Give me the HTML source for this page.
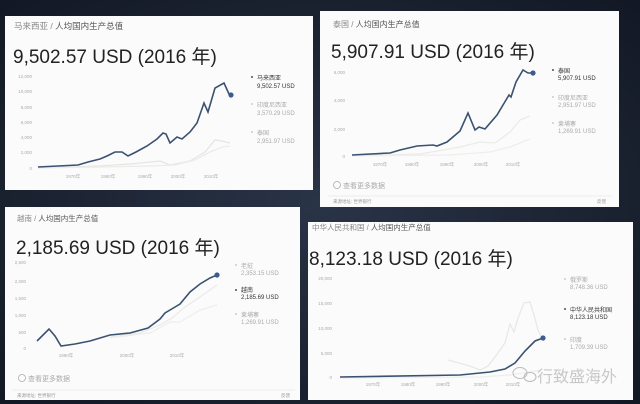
<!DOCTYPE html>
<html><head><meta charset="utf-8"><style>
html,body{margin:0;padding:0;background:#1b2232;width:640px;height:404px;overflow:hidden}
svg{display:block}
text{font-family:"Liberation Sans","Noto Sans CJK SC",sans-serif}
</style></head><body>
<svg width="640" height="404" viewBox="0 0 640 404" xmlns="http://www.w3.org/2000/svg">
<defs><radialGradient id="bg" cx="50%" cy="50%" r="70%"><stop offset="0" stop-color="#2a3447"/><stop offset="1" stop-color="#121824"/></radialGradient></defs>
<rect width="640" height="404" fill="url(#bg)"/>

<!-- Panel 1 Malaysia -->
<rect x="5" y="16" width="308" height="174" fill="#fbfbfc"/>
<text x="14" y="29" font-size="8.5" fill="#888">马来西亚 / <tspan fill="#555">人均国内生产总值</tspan></text>
<text x="13" y="63" font-size="19" fill="#222">9,502.57 USD (2016 年)</text>
<g font-size="4.5" fill="#aaa" text-anchor="end">
<text x="32" y="78">12,000</text><text x="32" y="93">10,000</text><text x="32" y="109">8,000</text><text x="32" y="124">6,000</text><text x="32" y="139">4,000</text><text x="32" y="154">2,000</text><text x="32" y="170">0</text></g>
<g font-size="4.5" fill="#aaa" text-anchor="middle">
<text x="73" y="178">1970年</text><text x="108" y="178">1980年</text><text x="145" y="178">1990年</text><text x="178" y="178">2000年</text><text x="211" y="178">2010年</text></g>
<polyline fill="none" stroke="#e6e6e0" stroke-width="1.3" points="38,168 100,166 130,164 160,161 170,165 190,161 205,152 215,140 222,141 230,143"/>
<polyline fill="none" stroke="#ececea" stroke-width="1.3" points="38,168 100,167 150,166 175,165 195,160 210,152 222,147 230,146"/>
<polyline fill="none" stroke="#3b5170" stroke-width="1.6" points="38,167 78,165 88,162 100,159 107,156 115,152 122,152 128,156 136,152 147,146 157,139 163,133 166,134 170,143 177,137 182,139 190,132 197,123 204,103 208,112 215,88 224,83 229,94 231,95"/>
<circle cx="231" cy="95" r="2.6" fill="#3e5b8f"/>
<circle cx="252" cy="77" r="1" fill="#3b5170"/>
<text x="257" y="80" font-size="6" fill="#333">马来西亚</text><text x="257" y="88" font-size="6" fill="#333">9,502.57 USD</text>
<circle cx="252" cy="104" r="1" fill="#ccc"/>
<text x="257" y="107" font-size="6" fill="#aaa">印度尼西亚</text><text x="257" y="115" font-size="6" fill="#aaa">3,570.29 USD</text>
<circle cx="252" cy="132" r="1" fill="#ccc"/>
<text x="257" y="135" font-size="6" fill="#aaa">泰国</text><text x="257" y="143" font-size="6" fill="#aaa">2,951.97 USD</text>

<!-- Panel 2 Thailand -->
<rect x="320" y="11" width="299" height="196" fill="#fbfbfc"/>
<text x="333" y="27" font-size="8" fill="#888">泰国 / <tspan fill="#555">人均国内生产总值</tspan></text>
<text x="331" y="58" font-size="19" fill="#222">5,907.91 USD (2016 年)</text>
<g font-size="4.5" fill="#aaa" text-anchor="end">
<text x="345" y="74">6,000</text><text x="345" y="102">4,000</text><text x="345" y="131">2,000</text><text x="345" y="158">0</text></g>
<g font-size="4.5" fill="#aaa" text-anchor="middle">
<text x="380" y="166">1970年</text><text x="412" y="166">1980年</text><text x="447" y="166">1990年</text><text x="481" y="166">2000年</text><text x="513" y="166">2010年</text></g>
<polyline fill="none" stroke="#ebebe6" stroke-width="1.3" points="352,156 420,154 460,147 480,142 495,143 510,132 520,120 530,116"/>
<polyline fill="none" stroke="#eeeeec" stroke-width="1.3" points="352,156 450,155 490,152 510,147 530,139"/>
<polyline fill="none" stroke="#3b5170" stroke-width="1.6" points="352,155 390,153 400,150 417,146 433,145 437,146 447,142 460,131 468,113 475,130 479,127 485,129 497,115 509,95 511,97 516,82 523,70 528,73 533,73"/>
<circle cx="533" cy="73" r="2.6" fill="#3e5b8f"/>
<circle cx="553" cy="70" r="1" fill="#3b5170"/>
<text x="558" y="73" font-size="6" fill="#333">泰国</text><text x="558" y="80" font-size="6" fill="#333">5,907.91 USD</text>
<circle cx="553" cy="97" r="1" fill="#ccc"/>
<text x="558" y="100" font-size="6" fill="#aaa">印度尼西亚</text><text x="558" y="107" font-size="6" fill="#aaa">2,951.97 USD</text>
<circle cx="553" cy="123" r="1" fill="#ccc"/>
<text x="558" y="126" font-size="6" fill="#aaa">柬埔寨</text><text x="558" y="133" font-size="6" fill="#aaa">1,269.91 USD</text>
<circle cx="337" cy="185" r="3.5" fill="none" stroke="#aaa" stroke-width="0.8"/>
<text x="343" y="188" font-size="7" fill="#aaa">查看更多数据</text>
<line x1="328" y1="196" x2="612" y2="196" stroke="#ddd" stroke-width="0.6"/>
<text x="333" y="203" font-size="4.5" fill="#999">来源地址: 世界银行</text>
<text x="597" y="203" font-size="4.5" fill="#999">反馈</text>

<!-- Panel 3 Vietnam -->
<rect x="5" y="207" width="295" height="193" fill="#fbfbfc"/>
<text x="17" y="221" font-size="7.5" fill="#888">越南 / <tspan fill="#555">人均国内生产总值</tspan></text>
<text x="16" y="254" font-size="19" fill="#222">2,185.69 USD (2016 年)</text>
<g font-size="4.5" fill="#aaa" text-anchor="end">
<text x="26" y="264">2,500</text><text x="26" y="283">2,000</text><text x="26" y="300">1,500</text><text x="26" y="317">1,000</text><text x="26" y="334">500</text><text x="26" y="350">0</text></g>
<g font-size="4.5" fill="#aaa" text-anchor="middle">
<text x="66" y="357">1990年</text><text x="127" y="357">2000年</text><text x="177" y="357">2010年</text></g>
<polyline fill="none" stroke="#ebebe6" stroke-width="1.3" points="110,337 140,333 160,325 172,318 185,307 200,297 217,285"/>
<polyline fill="none" stroke="#eeeeec" stroke-width="1.3" points="110,338 150,333 170,322 180,322 200,310 217,305"/>
<polyline fill="none" stroke="#3b5170" stroke-width="1.6" points="37,341 49,329 55,336 61,346 75,344 90,341 110,335 130,333 148,328 160,319 165,313 170,310 180,304 190,292 200,284 210,278 217,275"/>
<circle cx="217" cy="275" r="2.6" fill="#3e5b8f"/>
<circle cx="236" cy="265" r="1" fill="#ccc"/>
<text x="241" y="268" font-size="6" fill="#aaa">老挝</text><text x="241" y="275" font-size="6" fill="#aaa">2,353.15 USD</text>
<circle cx="236" cy="290" r="1" fill="#3b5170"/>
<text x="241" y="292" font-size="6" fill="#333">越南</text><text x="241" y="299" font-size="6" fill="#333">2,185.69 USD</text>
<circle cx="236" cy="314" r="1" fill="#ccc"/>
<text x="241" y="317" font-size="6" fill="#aaa">柬埔寨</text><text x="241" y="324" font-size="6" fill="#aaa">1,269.91 USD</text>
<circle cx="22" cy="378" r="3.5" fill="none" stroke="#aaa" stroke-width="0.8"/>
<text x="28" y="381" font-size="7" fill="#aaa">查看更多数据</text>
<line x1="12" y1="390" x2="295" y2="390" stroke="#ddd" stroke-width="0.6"/>
<text x="17" y="397" font-size="4.5" fill="#999">来源地址: 世界银行</text>
<text x="281" y="397" font-size="4.5" fill="#999">反馈</text>

<!-- Panel 4 China -->
<rect x="308" y="222" width="325" height="178" fill="#fbfbfc"/>
<text x="312" y="230" font-size="7.5" fill="#888">中华人民共和国 / <tspan fill="#555">人均国内生产总值</tspan></text>
<text x="309" y="265" font-size="19" fill="#222">8,123.18 USD (2016 年)</text>
<g font-size="4.5" fill="#aaa" text-anchor="end">
<text x="332" y="280">20,000</text><text x="332" y="305">15,000</text><text x="332" y="330">10,000</text><text x="332" y="355">5,000</text><text x="332" y="379">0</text></g>
<g font-size="4.5" fill="#aaa" text-anchor="middle">
<text x="373" y="386">1970年</text><text x="408" y="386">1980年</text><text x="443" y="386">1990年</text><text x="481" y="386">2000年</text><text x="513" y="386">2010年</text></g>
<polyline fill="none" stroke="#e8e8e4" stroke-width="1.3" points="448,360 470,366 480,370 488,366 495,357 505,343 510,324 514,332 518,318 524,303 530,302 534,315 538,330 541,336"/>
<polyline fill="none" stroke="#eeeeec" stroke-width="1.3" points="340,378 480,377 510,375 530,372 541,370"/>
<polyline fill="none" stroke="#3b5170" stroke-width="1.6" points="340,377 460,375 490,372 505,369 515,363 525,351 535,341 543,338"/>
<circle cx="543" cy="338" r="2.6" fill="#3e5b8f"/>
<circle cx="565" cy="279" r="1" fill="#ccc"/>
<text x="570" y="282" font-size="6" fill="#aaa">俄罗斯</text><text x="570" y="289" font-size="6" fill="#aaa">8,748.36 USD</text>
<circle cx="565" cy="309" r="1" fill="#3b5170"/>
<text x="570" y="312" font-size="6" fill="#333">中华人民共和国</text><text x="570" y="319" font-size="6" fill="#333">8,123.18 USD</text>
<circle cx="565" cy="339" r="1" fill="#ccc"/>
<text x="570" y="342" font-size="6" fill="#aaa">印度</text><text x="570" y="349" font-size="6" fill="#aaa">1,709.39 USD</text>
<!-- watermark -->
<g fill="none" stroke="#bbb" stroke-width="1">
<ellipse cx="520" cy="373" rx="7" ry="5.5"/><ellipse cx="530" cy="377" rx="6" ry="4.5"/></g>
<text x="537" y="382" font-size="16" fill="#c8c8c8" font-family="Noto Sans CJK SC, sans-serif">行致盛海外</text>
</svg>
</body></html>
